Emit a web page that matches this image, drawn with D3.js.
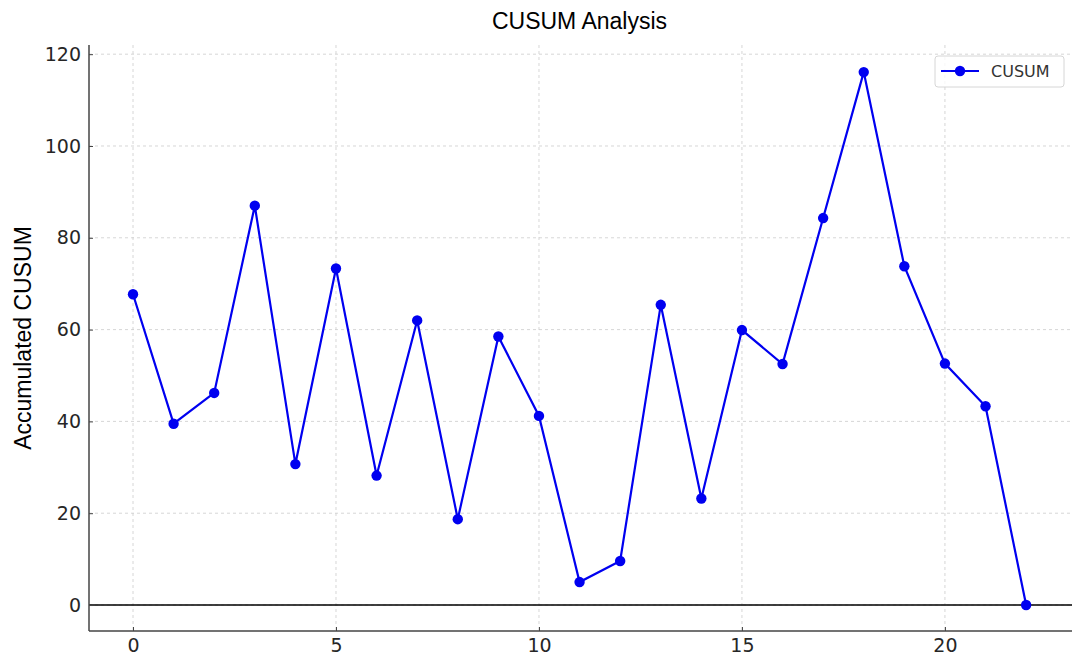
<!DOCTYPE html>
<html><head><meta charset="utf-8">
<script src="https://cdn.jsdelivr.net/npm/d3@7"></script>
<style>body{margin:0;background:#fff}</style>
</head><body>
<svg id="c" width="1080" height="659"></svg>
<script>
const xIndex = d3.range(0, 23);
const cusum = [67.7, 39.5, 46.2, 87.0, 30.7, 73.3, 28.2, 62.0, 18.7, 58.5, 41.2, 5.0, 9.6, 65.4, 23.2, 59.9, 52.5, 84.3, 116.1, 73.8, 52.6, 43.3, 0.0];
const xTicks = [0, 5, 10, 15, 20];
const yTicks = [0, 20, 40, 60, 80, 100, 120];
const titleText = "CUSUM Analysis";
const yLabel = "Accumulated CUSUM";
const seriesName = "CUSUM";

const svg = d3.select("#c");
const L = 89, R = 1072, T = 45, B = 631;
const x = d3.scaleLinear().domain([-1.084, 23.13]).range([L, R]);
const y = d3.scaleLinear().domain([-5.66, 122.0]).range([B, T]);

// grid
svg.append("g").selectAll("line").data(xTicks).join("line")
  .attr("x1", d => x(d)).attr("x2", d => x(d)).attr("y1", T).attr("y2", B)
  .attr("stroke", "#cccccc").attr("stroke-dasharray", "3,3").attr("stroke-width", 0.8);
svg.append("g").selectAll("line").data(yTicks).join("line")
  .attr("x1", L).attr("x2", R).attr("y1", d => y(d)).attr("y2", d => y(d))
  .attr("stroke", "#cccccc").attr("stroke-dasharray", "3,3").attr("stroke-width", 0.8);

// zero line
svg.append("line").attr("x1", L).attr("x2", R).attr("y1", y(0)).attr("y2", y(0))
  .attr("stroke", "#000").attr("stroke-width", 1.5);

// axes
const xAxis = d3.axisBottom(x).tickValues(xTicks).tickSize(-4).tickPadding(8).tickFormat(d3.format("d"));
const yAxis = d3.axisLeft(y).tickValues(yTicks).tickSize(-4).tickPadding(8).tickFormat(d3.format("d"));
const gx = svg.append("g").attr("transform", `translate(0,${B})`).call(xAxis);
const gy = svg.append("g").attr("transform", `translate(${L},0)`).call(yAxis);
[gx, gy].forEach(g => {
  g.select(".domain").remove();
  g.selectAll(".tick line").attr("stroke", "#444").attr("stroke-width", 1);
  g.selectAll(".tick text").attr("font-family", "DejaVu Sans").attr("font-size", 19).attr("fill", "#262626");
});
svg.append("line").attr("x1", L).attr("x2", L).attr("y1", T).attr("y2", B).attr("stroke", "#444").attr("stroke-width", 1.5);
svg.append("line").attr("x1", L).attr("x2", R).attr("y1", B).attr("y2", B).attr("stroke", "#444").attr("stroke-width", 1.5);

// line
const data = xIndex.map((d, i) => ({x: d, y: cusum[i]}));
svg.append("path").datum(data)
  .attr("d", d3.line().x(d => x(d.x)).y(d => y(d.y)))
  .attr("fill", "none").attr("stroke", "#0000f0").attr("stroke-width", 2.2);
svg.append("g").selectAll("circle").data(data).join("circle")
  .attr("cx", d => x(d.x)).attr("cy", d => y(d.y)).attr("r", 5.2).attr("fill", "#0000f0");

// title
svg.append("text").attr("x", (L + R) / 2 - 1).attr("y", 29).attr("text-anchor", "middle")
  .attr("font-family", "Liberation Sans").attr("font-size", 23).attr("fill", "#000").text(titleText);
// y label
svg.append("text").attr("transform", `translate(31,${(T + B) / 2}) rotate(-90)`).attr("text-anchor", "middle")
  .attr("font-family", "Liberation Sans").attr("font-size", 23).attr("fill", "#000").text(yLabel);

// legend
const lg = svg.append("g").attr("transform", "translate(935,56)");
lg.append("rect").attr("width", 129).attr("height", 31).attr("rx", 3)
  .attr("fill", "#fff").attr("fill-opacity", 0.8).attr("stroke", "#d6d6d6");
lg.append("line").attr("x1", 6).attr("x2", 44).attr("y1", 15).attr("y2", 15).attr("stroke", "#0000f0").attr("stroke-width", 2.2);
lg.append("circle").attr("cx", 25).attr("cy", 15).attr("r", 5.2).attr("fill", "#0000f0");
lg.append("text").attr("x", 56).attr("y", 21).attr("font-family", "DejaVu Sans").attr("font-size", 16).attr("fill", "#333").text(seriesName);
</script>
</body></html>
